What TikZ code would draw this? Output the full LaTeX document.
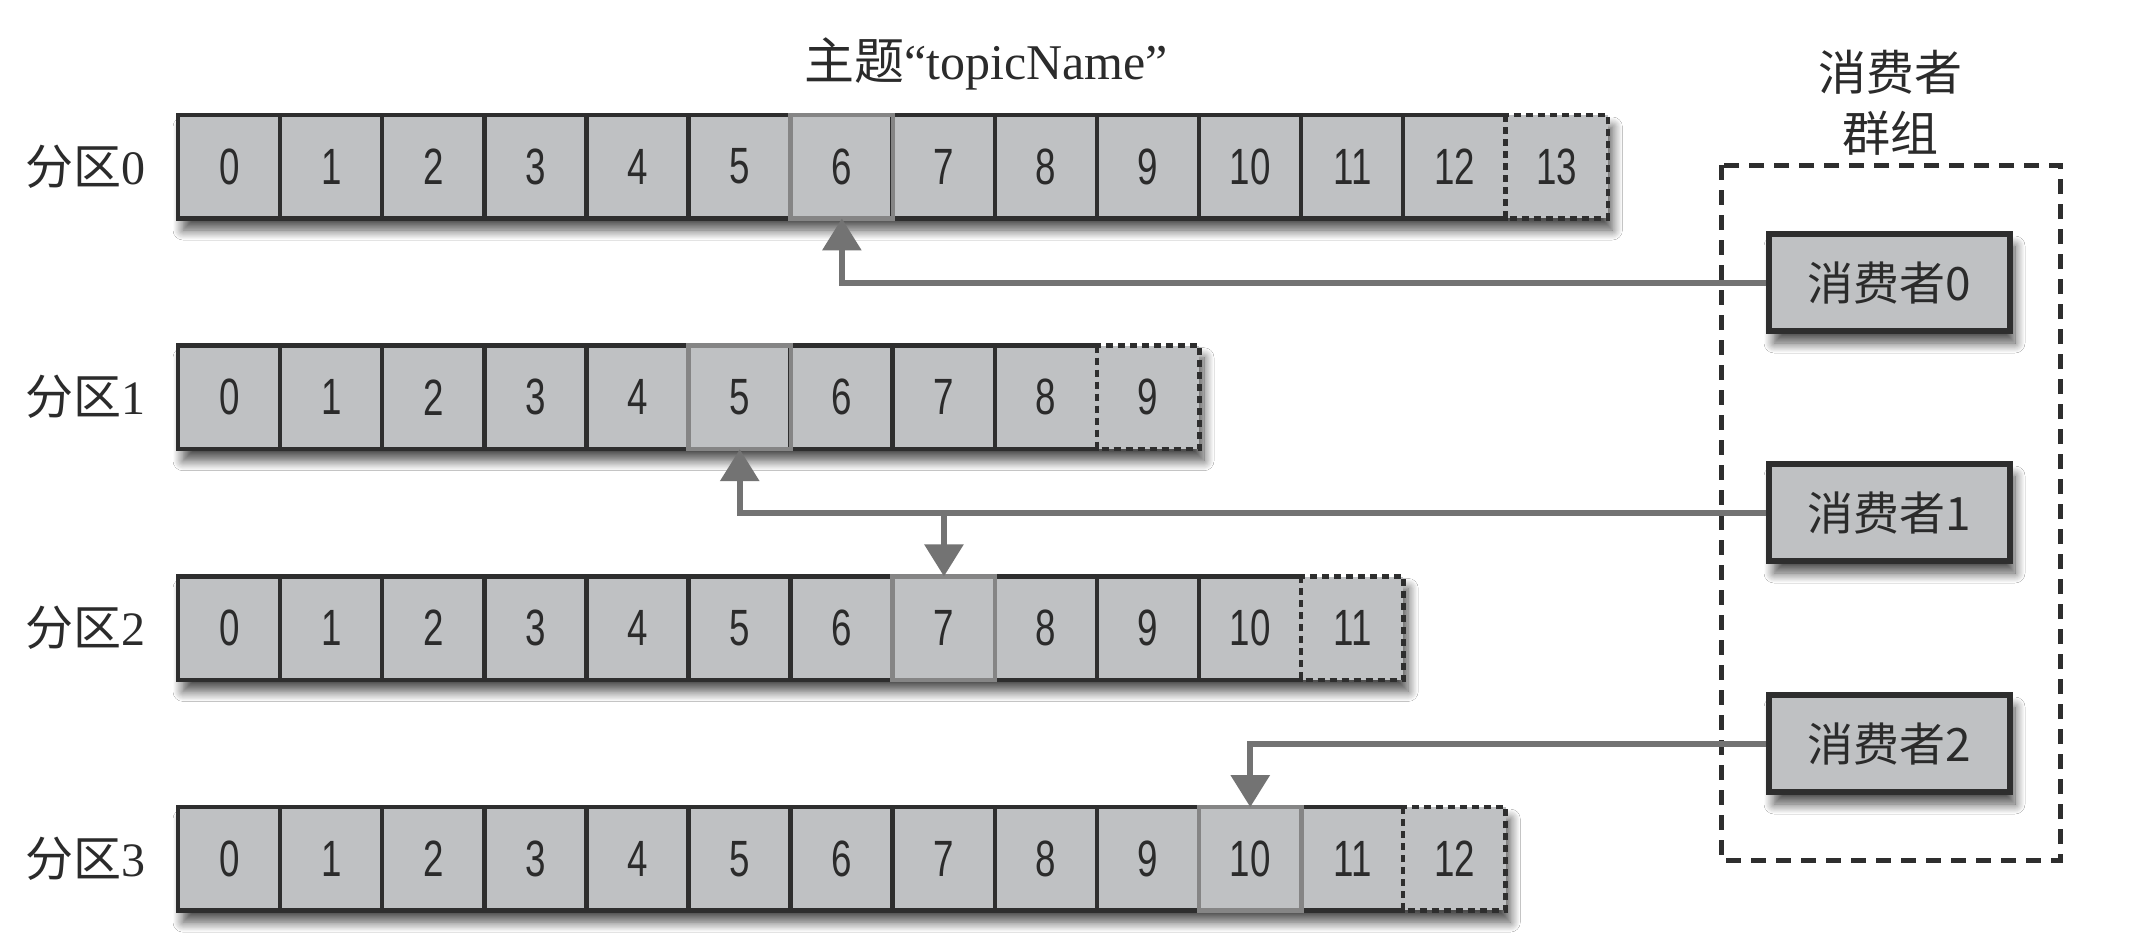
\documentclass[tikz,border=0pt]{standalone}
\usepackage{fontspec}
\setmainfont{Liberation Serif}
\newfontfamily\cjk{Noto Sans CJK SC}
\newfontfamily\cellfont[FakeStretch=0.72]{Liberation Sans}
\usetikzlibrary{arrows.meta,shadows.blur}
\definecolor{cellgray}{HTML}{BFC1C3}
\definecolor{dark}{HTML}{2E2E2E}
\definecolor{hotgray}{HTML}{858585}
\definecolor{linkgray}{HTML}{737373}
\definecolor{txt}{HTML}{2B2B2B}
\begin{document}
\begin{tikzpicture}[x=1pt,y={(0pt,-1pt)},
  cell/.style={anchor=north west, minimum width=102.1pt, minimum height=103pt, inner sep=0pt,
    fill=cellgray, text=txt, font=\cellfont\fontsize{51}{60}\selectfont},
  celledge/.style={draw=dark, line width=4.5pt, line cap=rect},
  hot/.style={draw=hotgray, line width=4.5pt},
  tail/.style={draw=dark, line width=4.5pt, dash pattern=on 7pt off 5pt},
  rowlabel/.style={anchor=east, inner sep=0pt, text=txt, font=\fontsize{48}{58}\selectfont},
  softshadow/.style={blur shadow={shadow xshift=5pt, shadow yshift=-12pt, shadow blur radius=10pt, shadow blur steps=12, shadow opacity=70}},
  consumer/.style={minimum width=241pt, minimum height=97pt, inner sep=0pt, fill=cellgray,
    draw=dark, line width=5.5pt, text=txt, font=\cjk\fontsize{46}{55}\selectfont, softshadow},
  groupbox/.style={draw=dark, line width=5pt, dash pattern=on 15pt off 10pt},
  link/.style={draw=linkgray, line width=6pt, -{Triangle[width=38pt,length=32pt]}}
]
\fill[white] (0,0) rectangle (2136,950);
\useasboundingbox (0,0) rectangle (2136,950);

% title and group label
\node[text=txt, font=\fontsize{50}{60}\selectfont, inner sep=0pt] (title) at (986,64) {{\cjk 主题}“topicName”};
\node[text=txt, font=\cjk\fontsize{48}{61}\selectfont, align=center, inner sep=0pt] (grouplabel) at (1890,103) {消费者\\群组};

% partitions
\foreach \r/\n/\h in {0/13/6,1/9/5,2/11/7,3/12/10}{
  \pgfmathsetmacro\rowtop{115+230.7*\r}
  \pgfmathsetmacro\rowright{178+102.1*(\n+1)}
  \path[softshadow] (178,\rowtop) rectangle (\rowright,\rowtop+103);
  \foreach \c in {0,...,\n}{
    \node[cell] (r\r-\c) at ({178+102.1*\c},\rowtop) {\c};
  }
  \node[rowlabel] (lab\r) at (146,\rowtop+51.5) {{\cjk 分区}\r};
  \pgfmathtruncatemacro\m{\n-1}
  \draw[celledge] (r\r-\n.north west) -- (r\r-0.north west) -- (r\r-0.south west) -- (r\r-\n.south west);
  \foreach \c in {1,...,\m}{
    \draw[celledge] (r\r-\c.north west) -- (r\r-\c.south west);
  }
  \draw[tail] (r\r-\n.north west) rectangle (r\r-\n.south east);
  \draw[hot] (r\r-\h.north west) rectangle (r\r-\h.south east);
}

% consumer group
\draw[groupbox] (1721,165) rectangle (2060,860);
\node[consumer] (cons0) at (1889.5,282.5) {消费者0};
\node[consumer] (cons1) at (1889.5,512.5) {消费者1};
\node[consumer] (cons2) at (1889.5,743.5) {消费者2};

% connectors
\draw[link] (cons0.west) -| (r0-6.south);
\draw[link] (cons1.west) -| (r1-5.south);
\coordinate (split) at (r2-7.north |- cons1.west);
\draw[link] (split) -- (r2-7.north);
\draw[link] (cons2.west) -| (r3-10.north);
\end{tikzpicture}
\end{document}
